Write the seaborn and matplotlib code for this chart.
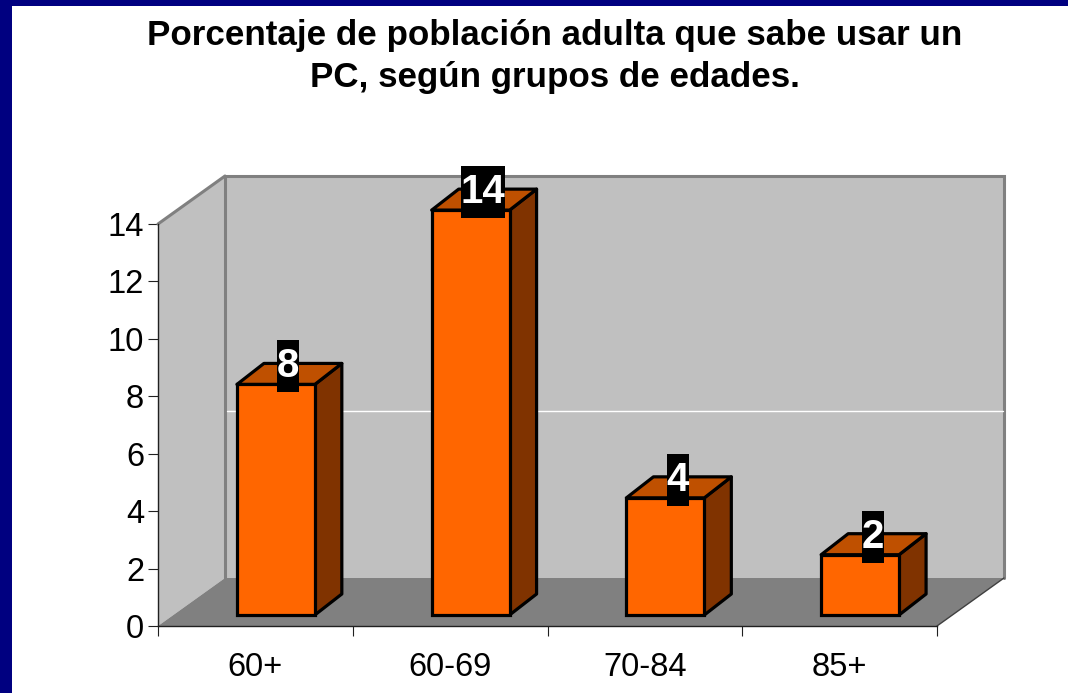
import matplotlib
matplotlib.use("Agg")
import matplotlib.pyplot as plt
import seaborn as sns
from matplotlib.patches import Polygon, Rectangle
from matplotlib.transforms import Affine2D, IdentityTransform

categories = ["60+", "60-69", "70-84", "85+"]
values = [8.03, 14.1, 4.08, 2.1]
value_labels = ["8", "14", "4", "2"]
y_ticks = [0, 2, 4, 6, 8, 10, 12, 14]
title_text = "Porcentaje de población adulta que sabe usar un\nPC, según grupos de edades."

sns.set_style("white")
plt.rcParams['font.family'] = ['Liberation Sans', 'DejaVu Sans']

W, H = 1068, 693
fig = plt.figure(figsize=(W / 100, H / 100), dpi=100, facecolor='white')
ax = fig.add_axes([158 / W, (H - 626) / H, 779 / W, 402 / H])
ax.patch.set_visible(False)

sns.barplot(x=categories, y=values, color='#FF6600', width=0.4, saturation=1,
            edgecolor='black', linewidth=2.3, ax=ax, zorder=3)
ax.set_xlim(-0.5, 3.5)
ax.set_ylim(0, 14)


def to_px(x, y, dx=0, dy=0):
    px, py = ax.transData.transform((x, y))
    return (px + dx, py + dy)


def poly(points, **kw):
    p = Polygon(points, closed=True, transform=IdentityTransform(), clip_on=False, **kw)
    ax.add_patch(p)
    return p


# walls and floor (depth in pixels)
wall_dx, wall_dy = 67, 48
x0, x1 = ax.get_xlim()
y0, y1 = ax.get_ylim()
poly([to_px(x0, y0), to_px(x0, y1), to_px(x0, y1, wall_dx, wall_dy), to_px(x0, y0, wall_dx, wall_dy)],
     facecolor='#C0C0C0', edgecolor='none', zorder=0.5)
poly([to_px(x0, y0, wall_dx, wall_dy), to_px(x0, y1, wall_dx, wall_dy),
      to_px(x1, y1, wall_dx, wall_dy), to_px(x1, y0, wall_dx, wall_dy)],
     facecolor='#C0C0C0', edgecolor='none', zorder=0.5)
poly([to_px(x0, y0), to_px(x0, y0, wall_dx, wall_dy), to_px(x1, y0, wall_dx, wall_dy), to_px(x1, y0)],
     facecolor='#808080', edgecolor='none', zorder=0.6)

# wall outline
outline = [to_px(x0, y0, wall_dx, wall_dy), to_px(x0, y1, wall_dx, wall_dy),
           to_px(x1, y1, wall_dx, wall_dy), to_px(x1, y0, wall_dx, wall_dy)]
ax.plot(*zip(*outline), color='#808080', lw=2.2, transform=IdentityTransform(), clip_on=False,
        solid_joinstyle='miter', zorder=0.7)
ax.plot(*zip(to_px(x0, y1), to_px(x0, y1, wall_dx, wall_dy)), color='#808080', lw=2.2,
        transform=IdentityTransform(), clip_on=False, zorder=0.7)
ax.plot(*zip(to_px(x1, y0), to_px(x1, y0, wall_dx, wall_dy)), color='#404040', lw=1,
        transform=IdentityTransform(), clip_on=False, zorder=0.7)

# the single white line on the back wall
white_level = 5.82
ax.plot(*zip(to_px(x0, white_level, wall_dx + 2, wall_dy), to_px(x1, white_level, wall_dx - 1, wall_dy)),
        color='white', lw=1, transform=IdentityTransform(), clip_on=False, zorder=0.8)

# shift bars off the axis plane and add the 3d faces
off_x, off_y = 20.5, 11
bar_dx, bar_dy = 27, 21
bars = [p for p in ax.containers[0]]
shift = ax.transData + Affine2D().translate(off_x, off_y)
for bar, val, lab in zip(bars, values, value_labels):
    bar.set_transform(shift)
    bar.set_clip_on(False)
    left, right = bar.get_x(), bar.get_x() + bar.get_width()
    poly([to_px(right, 0, off_x, off_y), to_px(right, val, off_x, off_y),
          to_px(right, val, off_x + bar_dx, off_y + bar_dy), to_px(right, 0, off_x + bar_dx, off_y + bar_dy)],
         facecolor='#803300', edgecolor='black', lw=2.3, joinstyle='round', zorder=2.5)
    poly([to_px(left, val, off_x, off_y), to_px(right, val, off_x, off_y),
          to_px(right, val, off_x + bar_dx, off_y + bar_dy), to_px(left, val, off_x + bar_dx, off_y + bar_dy)],
         facecolor='#BF5000', edgecolor='black', lw=2.3, joinstyle='round', zorder=2.5)

    # data label, black box with white digits
    cx, cy = to_px((left + right) / 2, val, off_x + 12.5, off_y + 18)
    box_w = 22 * len(lab)
    ax.add_patch(Rectangle((cx - box_w / 2, cy - 26), box_w, 52, transform=IdentityTransform(),
                           facecolor='black', edgecolor='none', clip_on=False, zorder=4))
    ax.text(cx, cy, lab, transform=IdentityTransform(), color='white', fontsize=29,
            fontweight='bold', ha='center', va='center', zorder=5, clip_on=False)

# axes, ticks
sns.despine(ax=ax)
for side in ('left', 'bottom'):
    ax.spines[side].set_color('#202020')
    ax.spines[side].set_linewidth(1)
    ax.spines[side].set_zorder(1)
ax.set_yticks(y_ticks)
ax.set_xticks(range(len(categories)))
ax.set_xticklabels(categories)
ax.set_xticks([i - 0.5 for i in range(len(categories) + 1)], minor=True)
ax.tick_params(axis='x', which='major', length=0, pad=19, labelsize=23.5, labelcolor='black')
ax.tick_params(axis='x', which='minor', length=7, width=0.8, color='#202020', bottom=True)
ax.tick_params(axis='y', length=7, width=0.8, pad=3, labelsize=23.5, color='#202020', labelcolor='black', left=True)

# frame on the left and top
fig.add_artist(Rectangle((0, 0), 12 / W, 1, transform=fig.transFigure, facecolor='#000080', edgecolor='none'))
fig.add_artist(Rectangle((0, 1 - 6 / H), 1, 6 / H, transform=fig.transFigure, facecolor='#000080', edgecolor='none'))

fig.text(555 / W, 1 - 19 / H, title_text, ha='center', va='top', fontsize=25.2, fontweight='bold',
         linespacing=1.36, color='black')

fig.savefig("out.png", dpi=100)
